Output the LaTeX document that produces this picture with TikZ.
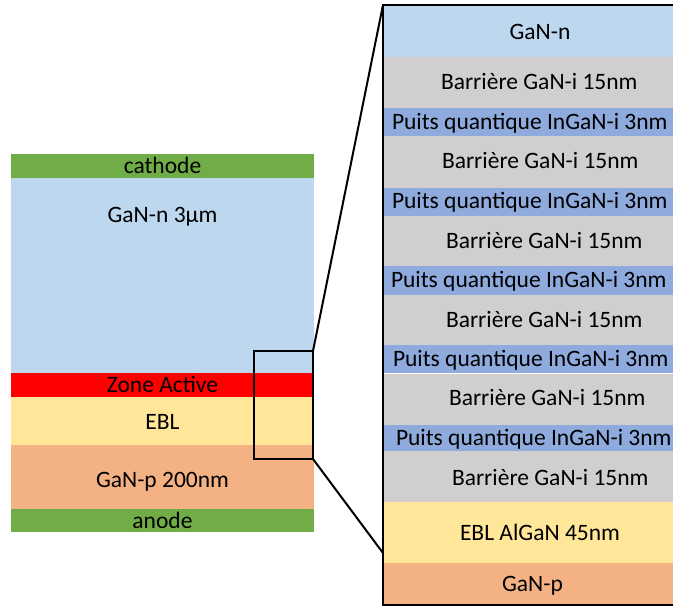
\documentclass[tikz,border=0pt]{standalone}
\usepackage{fontspec}
\setmainfont{Carlito}
\definecolor{cgreen}{HTML}{70AD47}
\definecolor{cnblue}{HTML}{BDD7EE}
\definecolor{cred}{HTML}{FF0000}
\definecolor{cyel}{HTML}{FFE699}
\definecolor{corange}{HTML}{F4B183}
\definecolor{cgrey}{HTML}{D0CECE}
\definecolor{cwell}{HTML}{8FAADC}
\begin{document}
\begin{tikzpicture}[x=1pt,y=-1pt,
  lay/.style={draw=none,inner sep=0pt,outer sep=0pt,anchor=north west},
  txt/.style={inner sep=0pt,outer sep=0pt,text height=15pt,text depth=0pt,font=\fontsize{23.5}{28}\selectfont},
  frame/.style={draw=black,line width=2.2pt,inner sep=0pt,outer sep=0pt,anchor=north west,fill=none},
  conn/.style={draw=black,line width=2pt}]
\useasboundingbox (0,0) rectangle (673,607);
\clip (0,0) rectangle (673,607);
% left stack
\node[lay,fill=cgreen,minimum width=303pt,minimum height=24pt] (cath) at (11,154) {};
\node[lay,fill=cnblue,minimum width=303pt,minimum height=195pt] (lgann) at (11,178) {};
\node[lay,fill=cred,minimum width=303pt,minimum height=24pt] (za) at (11,373) {};
\node[lay,fill=cyel,minimum width=303pt,minimum height=48pt] (lebl) at (11,397) {};
\node[lay,fill=corange,minimum width=303pt,minimum height=64pt] (lganp) at (11,445) {};
\node[lay,fill=cgreen,minimum width=303pt,minimum height=23pt] (anode) at (11,509) {};
\node[txt] (tcath) at (162.5,166) {cathode};
\node[txt] (tgann) at (162.5,215) {GaN-n 3µm};
\node[txt] (tza) at (162.5,385) {Zone Active};
\node[txt] (tebl) at (162.5,422) {EBL};
\node[txt] (tganp) at (162.5,480) {GaN-p 200nm};
\node[txt] (tanode) at (162.5,520.5) {anode};
% zoom box
\node[frame,minimum width=59pt,minimum height=108pt] (zoom) at (254,351) {};
% right column layers
\node[lay,fill=cnblue,minimum width=314pt,minimum height=52pt] (rgann) at (383,5) {};
\node[lay,fill=cgrey,minimum width=314pt,minimum height=51pt] (b1) at (383,57) {};
\node[lay,fill=cwell,minimum width=314pt,minimum height=28pt] (w1) at (383,108) {};
\node[lay,fill=cgrey,minimum width=314pt,minimum height=52pt] (b2) at (383,136) {};
\node[lay,fill=cwell,minimum width=314pt,minimum height=28pt] (w2) at (383,188) {};
\node[lay,fill=cgrey,minimum width=314pt,minimum height=50pt] (b3) at (383,216) {};
\node[lay,fill=cwell,minimum width=314pt,minimum height=29pt] (w3) at (383,266) {};
\node[lay,fill=cgrey,minimum width=314pt,minimum height=50pt] (b4) at (383,295) {};
\node[lay,fill=cwell,minimum width=314pt,minimum height=28pt] (w4) at (383,345) {};
\node[lay,fill=cgrey,minimum width=314pt,minimum height=52pt] (b5) at (383,373) {};
\node[lay,fill=cwell,minimum width=314pt,minimum height=26pt] (w5) at (383,425) {};
\node[lay,fill=cgrey,minimum width=314pt,minimum height=51pt] (b6) at (383,451) {};
\node[lay,fill=cyel,minimum width=314pt,minimum height=61pt] (rebl) at (383,502) {};
\node[lay,fill=corange,minimum width=314pt,minimum height=42pt] (rganp) at (383,563) {};
\draw[white,line width=0.8pt] (b5.north west) -- (b5.north east);
% right texts
\node[txt] (trgann) at (540,32) {GaN-n};
\node[txt,anchor=west] (tb1) at (441,82) {Barrière GaN-i 15nm};
\node[txt,anchor=west] (tw1) at (392,122) {Puits quantique InGaN-i 3nm};
\node[txt,anchor=west] (tb2) at (442,161.5) {Barrière GaN-i 15nm};
\node[txt,anchor=west] (tw2) at (392,201.5) {Puits quantique InGaN-i 3nm};
\node[txt,anchor=west] (tb3) at (446,241) {Barrière GaN-i 15nm};
\node[txt,anchor=west] (tw3) at (391,280) {Puits quantique InGaN-i 3nm};
\node[txt,anchor=west] (tb4) at (446,320) {Barrière GaN-i 15nm};
\node[txt,anchor=west] (tw4) at (393,359) {Puits quantique InGaN-i 3nm};
\node[txt,anchor=west] (tb5) at (449,397.5) {Barrière GaN-i 15nm};
\node[txt,anchor=west] (tw5) at (396,438) {Puits quantique InGaN-i 3nm};
\node[txt,anchor=west] (tb6) at (452,477.5) {Barrière GaN-i 15nm};
\node[txt] (trebl) at (540,533) {EBL AlGaN 45nm};
\node[txt] (trganp) at (532.5,583.5) {GaN-p};
% frame of right column
\node[frame,minimum width=314pt,minimum height=600pt] (col) at (383,5) {};
% connectors
\coordinate (zb) at (383,553);
\draw[conn] (zoom.north east) -- (col.north west);
\draw[conn] (zoom.south east) -- (zb);
\end{tikzpicture}
\end{document}
